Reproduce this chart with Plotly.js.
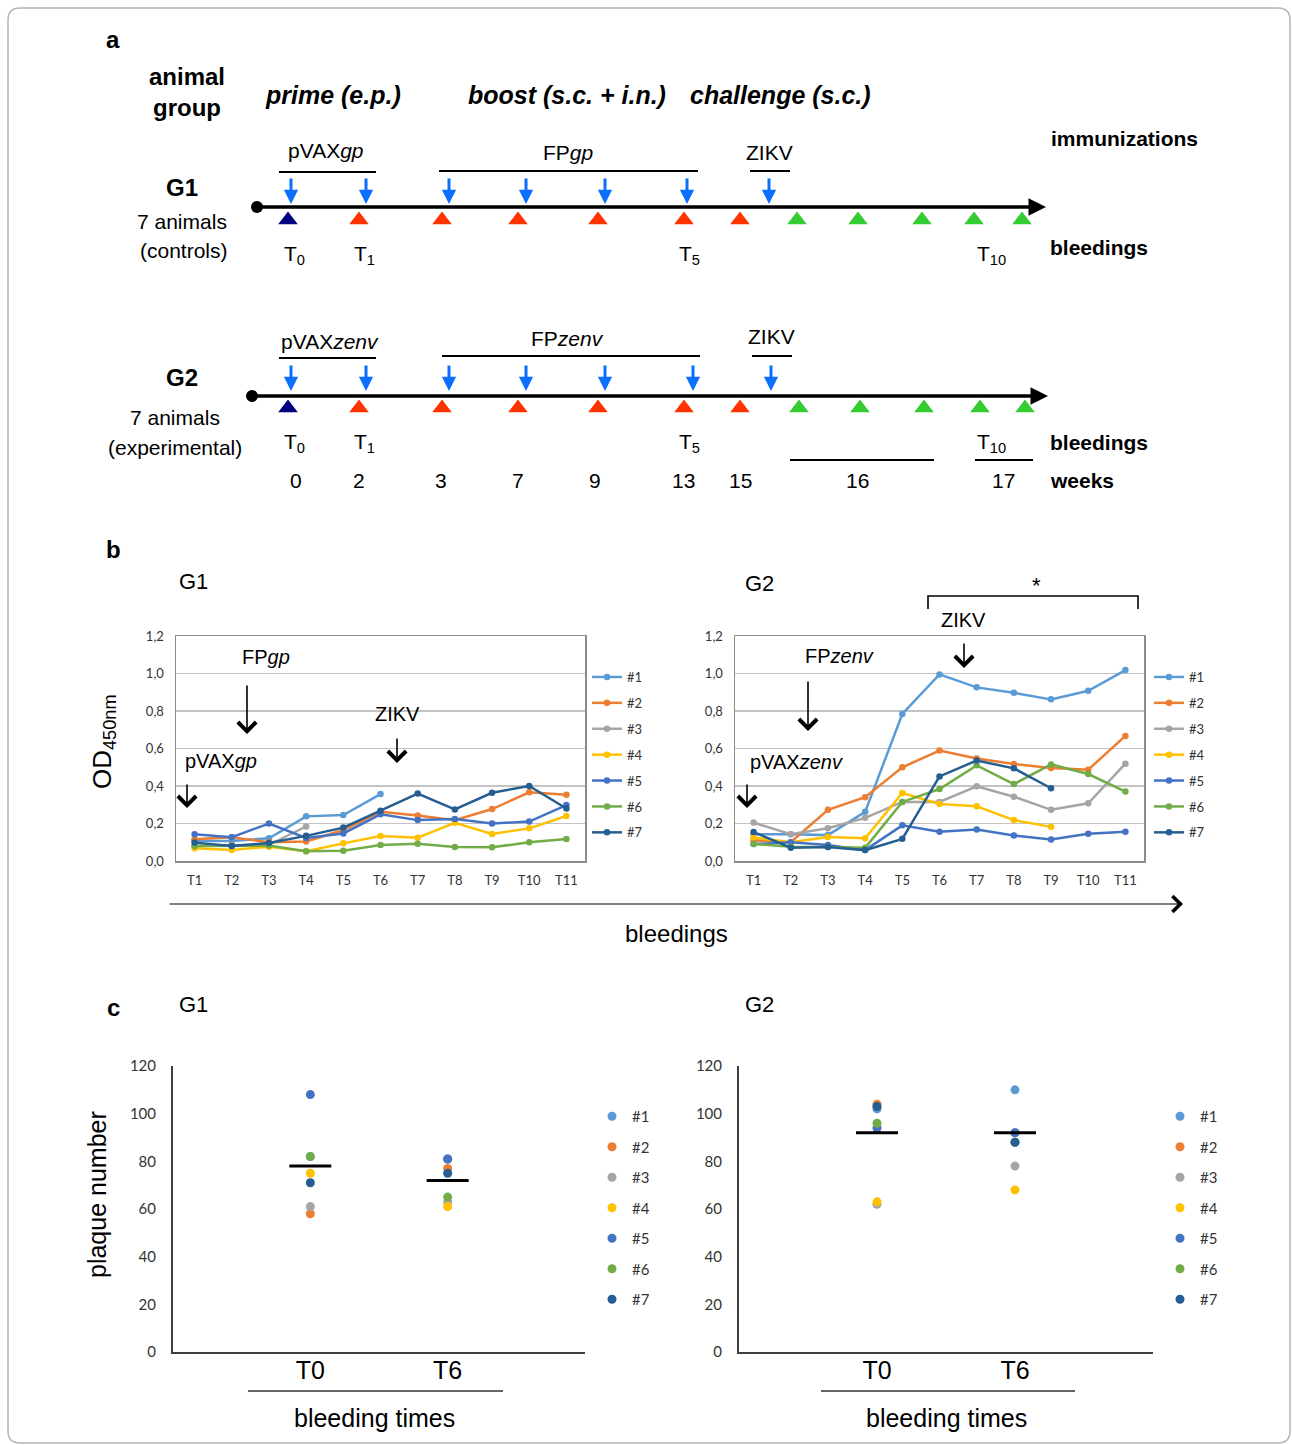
<!DOCTYPE html>
<html>
<head>
<meta charset="utf-8">
<script src="https://cdn.plot.ly/plotly-3.0.1.min.js"></script>
<style>html,body{margin:0;padding:0;background:#fff;}#chart{width:1292px;height:1445px;}</style>
</head>
<body>
<div id="chart"></div>
<script>
// ---------------- DATA ----------------
const bleedLabels = ['T1','T2','T3','T4','T5','T6','T7','T8','T9','T10','T11'];
const animals = ['#1','#2','#3','#4','#5','#6','#7'];
const weekLabels = ['0','2','3','7','9','13','15','16','17'];
const bleedKinds = ['base','vac','vac','vac','vac','vac','vac','post','post','post','post','post'];

// panel b, G1 (OD450nm)
const g1_a1 = [0.107,0.107,0.121,0.238,0.245,0.357,null,null,null,null,null];
const g1_a2 = [0.116,0.127,0.100,0.104,0.165,0.263,0.243,0.218,0.277,0.366,0.353];
const g1_a3 = [0.080,0.085,0.086,0.184,null,null,null,null,null,null,null];
const g1_a4 = [0.068,0.059,0.076,0.052,0.094,0.133,0.124,0.204,0.144,0.174,0.240];
const g1_a5 = [0.143,0.127,0.200,0.123,0.147,0.249,0.218,0.224,0.200,0.210,0.298];
const g1_a6 = [0.080,0.080,0.082,0.052,0.055,0.085,0.092,0.075,0.073,0.100,0.117];
const g1_a7 = [0.098,0.080,0.096,0.134,0.178,0.268,0.360,0.275,0.364,0.400,0.280];
// panel b, G2 (OD450nm)
const g2_a1 = [0.142,0.143,0.138,0.262,0.784,0.995,0.926,0.897,0.862,0.908,1.018];
const g2_a2 = [0.110,0.100,0.273,0.340,0.500,0.589,0.547,0.517,0.496,0.487,0.667];
const g2_a3 = [0.205,0.143,0.175,0.230,0.315,0.315,0.398,0.343,0.273,0.308,0.519];
const g2_a4 = [0.125,0.100,0.128,0.121,0.363,0.304,0.292,0.218,0.182,null,null];
const g2_a5 = [0.090,0.100,0.085,0.058,0.190,0.156,0.168,0.136,0.115,0.145,0.156];
const g2_a6 = [0.091,0.076,0.074,0.070,0.315,0.384,0.510,0.410,0.515,0.464,0.370];
const g2_a7 = [0.154,0.071,0.075,0.058,0.118,0.451,0.536,0.494,0.388,null,null];

// panel c (plaque number) [T0, T6]
const plaqueTimes = ['T0','T6'];
const c1_a1 = [82,81], c1_a2 = [58,77], c1_a3 = [61,63], c1_a4 = [75,61], c1_a5 = [108,81], c1_a6 = [82,65], c1_a7 = [71,75];
const c2_a1 = [102,110], c2_a2 = [104,92], c2_a3 = [62,78], c2_a4 = [63,68], c2_a5 = [94,92], c2_a6 = [96,88], c2_a7 = [103,88];
const c1_mean = [78,72];
const c2_mean = [92,92];

// ---------------- STYLE / LAYOUT ----------------
const colors = ['#5B9BD5','#ED7D31','#A5A5A5','#FFC000','#4472C4','#70AD47','#255E91'];
const W = 1292, H = 1445;
const fx = p => p / W, fy = p => 1 - p / H;
const AR = 'Liberation Sans, Arial, sans-serif';
const CAL = 'Lato, Carlito, sans-serif';

// schematic (panel a) positions in page pixels
const tri1X = [288,359,442,518,598,684,740,797,858,922,974,1022];
const tri2X = [288,359,442,518,598,684,740,799,860,924,980,1025];
const imm1X = [291,366,449,526,605,687,769];
const imm2X = [291,366,449,526,605,693,771];
const weekX = [296,359,441,518,595,683,740,857,1003];
const kindColor = {base:'#000080', vac:'#FF3300', post:'#33CC33'};

const g1 = [g1_a1,g1_a2,g1_a3,g1_a4,g1_a5,g1_a6,g1_a7];
const g2 = [g2_a1,g2_a2,g2_a3,g2_a4,g2_a5,g2_a6,g2_a7];
const c1 = [c1_a1,c1_a2,c1_a3,c1_a4,c1_a5,c1_a6,c1_a7];
const c2 = [c2_a1,c2_a2,c2_a3,c2_a4,c2_a5,c2_a6,c2_a7];

const traces = [];
function lineSet(data, xa, ya, leg, tag){
  data.forEach((ys,i)=>traces.push({
    type:'scatter', mode:'lines+markers', x:bleedLabels, y:ys, name:animals[i],
    xaxis:xa, yaxis:ya, legend:leg, legendgroup:tag+i,
    line:{color:colors[i], width:2.5}, marker:{color:colors[i], size:6.5},
    connectgaps:false, hoverinfo:'skip'
  }));
}
lineSet(g1,'x','y','legend','b1');
lineSet(g2,'x2','y2','legend2','b2');

function dotSet(data, mean, xa, ya, leg, tag){
  data.forEach((ys,i)=>traces.push({
    type:'scatter', mode:'markers', x:[1,2], y:ys, name:animals[i],
    xaxis:xa, yaxis:ya, legend:leg, legendgroup:tag+i,
    marker:{color:colors[i], size:9}, hoverinfo:'skip'
  }));
  traces.push({type:'scatter', mode:'markers', x:[1,2], y:mean, xaxis:xa, yaxis:ya, showlegend:false,
    marker:{symbol:'line-ew', size:30, color:'#000', line:{color:'#000', width:3}}, hoverinfo:'skip'});
}
dotSet(c1, c1_mean, 'x3','y3','legend3','c1');
dotSet(c2, c2_mean, 'x4','y4','legend4','c2');

// panel a triangles
[[tri1X,220],[tri2X,408]].forEach(([xs,yy])=>{
  traces.push({type:'scatter', mode:'markers', x:xs, y:xs.map(()=>yy), xaxis:'x5', yaxis:'y5', showlegend:false,
    marker:{symbol:'triangle-up', size:17, color:bleedKinds.map(k=>kindColor[k])}, hoverinfo:'skip'});
});
// timeline start dots
traces.push({type:'scatter', mode:'markers', x:[257,252], y:[207,396], xaxis:'x5', yaxis:'y5', showlegend:false,
  marker:{size:12, color:'#000'}, hoverinfo:'skip'});

const ann = [];
function txt(x,y,t,size,opts){
  ann.push(Object.assign({xref:'x5', yref:'y5', x:x, y:y, text:t, showarrow:false,
    xanchor:'center', yanchor:'middle', font:{family:AR, size:size, color:'#000'}}, opts||{}));
}
function arr(x,y1,y2,color,width,head,size,x2){
  ann.push({xref:'x5', yref:'y5', axref:'x5', ayref:'y5', x:(x2===undefined?x:x2), y:y2, ax:x, ay:y1, text:'',
    showarrow:true, arrowhead:head, arrowsize:size, arrowwidth:width, arrowcolor:color, standoff:0, startstandoff:0});
}
// ----- panel a -----
txt(113,39,'<b>a</b>',24);
txt(187,92,'<b>animal<br>group</b>',24);
txt(333,95,'<b><i>prime (e.p.)</i></b>',25);
txt(567,95,'<b><i>boost (s.c. + i.n.)</i></b>',25);
txt(780,95,'<b><i>challenge (s.c.)</i></b>',25);
txt(1124,138,'<b>immunizations</b>',21);
txt(182,187,'<b>G1</b>',24);
txt(182,221,'7 animals',21);
txt(184,250,'(controls)',21);
txt(326,150,'pVAX<i>gp</i>',21);
txt(568,152,'FP<i>gp</i>',21);
txt(769,152,'ZIKV',21);
[[294,'0'],[364,'1'],[689,'5'],[991,'10']].forEach(([x,s])=>{txt(x,255,'T<sub>'+s+'</sub>',21); txt(x,443,'T<sub>'+s+'</sub>',21);});
txt(1099,247,'<b>bleedings</b>',21);
txt(182,377,'<b>G2</b>',24);
txt(175,417,'7 animals',21);
txt(175,447,'(experimental)',21);
txt(330,341,'pVAX<i>zenv</i>',21);
txt(567,338,'FP<i>zenv</i>',21);
txt(771,336,'ZIKV',21);
txt(1099,442,'<b>bleedings</b>',21);
weekLabels.forEach((w,i)=>txt(weekX[i],480,w,21));
txt(1082,480,'<b>weeks</b>',21);
imm1X.forEach(x=>arr(x,177,204,'#0A6EFF',3,2,0.95));
imm2X.forEach(x=>arr(x,364,391,'#0A6EFF',3,2,0.95));
arr(257,207,207,'#000',3.5,2,1,1046);
arr(252,396,396,'#000',3.5,2,1,1048);

// ----- panel b -----
txt(113,549,'<b>b</b>',24);
txt(193,581,'G1',22);
txt(759,583,'G2',22);
txt(103,742,'OD<sub>450nm</sub>',26,{textangle:-90});
txt(266,657,'FP<i>gp</i>',20);
arr(247,684,734,'#000',1.6,4,2.2);
txt(221,761,'pVAX<i>gp</i>',20);
arr(187,783,808,'#000',1.6,4,2.2);
txt(397,714,'ZIKV',20);
arr(397,737,763,'#000',1.6,4,2.2);
txt(839,656,'FP<i>zenv</i>',20);
arr(808,680,731,'#000',1.6,4,2.2);
txt(796,762,'pVAX<i>zenv</i>',20);
arr(747,783,808,'#000',1.6,4,2.2);
txt(963,620,'ZIKV',20);
arr(964,642,668,'#000',1.6,4,2.2);
txt(1036,585,'*',22);
arr(168,904,904,'#000',1.2,4,2.6,1183);
txt(676,933,'bleedings',24);

// ----- panel c -----
txt(113,1007,'<b>c</b>',24);
txt(193,1004,'G1',22);
txt(759,1004,'G2',22);
txt(97,1195,'plaque number',25,{textangle:-90});
txt(374,1418,'bleeding times',25);
txt(946,1418,'bleeding times',25);

const shapes = [];
function seg(x0,y0,x1,y1,w,c){shapes.push({type:'line', xref:'x5', yref:'y5', x0:x0,y0:y0,x1:x1,y1:y1, line:{color:c||'#000', width:w}});}
seg(279,172,376,172,2); seg(439,171,698,171,2); seg(750,171,790,171,2);
seg(279,358,376,358,2); seg(442,356,700,356,2); seg(752,356,792,356,2);
seg(790,460,934,460,2); seg(975,460,1033,460,2);
seg(248,1391,503,1391,1.5,'#333'); seg(821,1391,1075,1391,1.5,'#333');
shapes.push({type:'path', xref:'x5', yref:'y5', path:'M928,609 V596 H1138 V609', line:{color:'#000', width:1.6}});
// figure border (rounded)
const r=12, L=8, T=8, R=1290, B=1443;
shapes.push({type:'path', xref:'x5', yref:'y5', layer:'below',
  path:`M${L+r},${T} H${R-r} Q${R},${T} ${R},${T+r} V${B-r} Q${R},${B} ${R-r},${B} H${L+r} Q${L},${B} ${L},${B-r} V${T+r} Q${L},${T} ${L+r},${T} Z`,
  line:{color:'#b5b5b5', width:1.5}});

function bX(dom){return {domain:dom, type:'category', categoryarray:bleedLabels, range:[-0.5,10.5],
  showline:true, mirror:true, linecolor:'#8c8c8c', linewidth:1.5, ticks:'', showgrid:false, zeroline:false,
  tickfont:{family:CAL, size:13, color:'#333'}, ticklabelstandoff:7, fixedrange:true};}
function bY(dom, anchor){return {domain:dom, anchor:anchor, range:[0,1.2], dtick:0.2, tick0:0, tickformat:'.1f',
  showgrid:true, gridcolor:'#c3c3c3', gridwidth:1.5, showline:true, mirror:true, linecolor:'#8c8c8c', linewidth:1.5,
  zeroline:false, ticks:'', tickfont:{family:CAL, size:13, color:'#333'}, ticklabelstandoff:8, fixedrange:true};}
function cX(dom){return {domain:dom, range:[0,3], tickvals:[1,2], ticktext:plaqueTimes, showline:true, linecolor:'#404040',
  linewidth:2, ticks:'', showgrid:false, zeroline:false, tickfont:{family:AR, size:25, color:'#000'}, ticklabelstandoff:-5, fixedrange:true};}
function cY(dom, anchor){return {domain:dom, anchor:anchor, range:[0,120], dtick:20, showline:true, linecolor:'#404040',
  linewidth:2, ticks:'', showgrid:false, zeroline:false, tickfont:{family:CAL, size:15, color:'#333'}, ticklabelstandoff:12, fixedrange:true};}
function leg(x,y,size,gap){return {x:fx(x), y:fy(y), xanchor:'left', yanchor:'top', bgcolor:'rgba(0,0,0,0)',
  font:{family:CAL, size:size, color:'#333'}, tracegroupgap:gap, itemwidth:30, itemclick:false, itemdoubleclick:false};}

const bYdom = [fy(861), fy(636)], cYdom = [fy(1352), fy(1066)];
const layout = {
  width:W, height:H, margin:{l:0,r:0,t:0,b:0}, paper_bgcolor:'#fff', plot_bgcolor:'rgba(0,0,0,0)',
  separators:',.', showlegend:true, hovermode:false,
  font:{family:AR, color:'#000'},
  xaxis: Object.assign(bX([fx(176),fx(585)]),{anchor:'y'}),
  yaxis: bY(bYdom,'x'),
  xaxis2: Object.assign(bX([fx(735),fx(1144)]),{anchor:'y2'}),
  yaxis2: bY(bYdom,'x2'),
  xaxis3: Object.assign(cX([fx(173),fx(585)]),{anchor:'y3'}),
  yaxis3: cY(cYdom,'x3'),
  xaxis4: Object.assign(cX([fx(739),fx(1153)]),{anchor:'y4'}),
  yaxis4: cY(cYdom,'x4'),
  xaxis5: {domain:[0,1], range:[0,W], visible:false, anchor:'y5', fixedrange:true},
  yaxis5: {domain:[0,1], range:[H,0], visible:false, anchor:'x5', fixedrange:true},
  legend: leg(587,662,13,6),
  legend2: leg(1149,662,13,6),
  legend3: leg(592,1100,15,8),
  legend4: leg(1160,1100,15,8),
  annotations: ann, shapes: shapes
};
Plotly.newPlot('chart', traces, layout, {staticPlot:true, displayModeBar:false});
</script>
</body>
</html>
